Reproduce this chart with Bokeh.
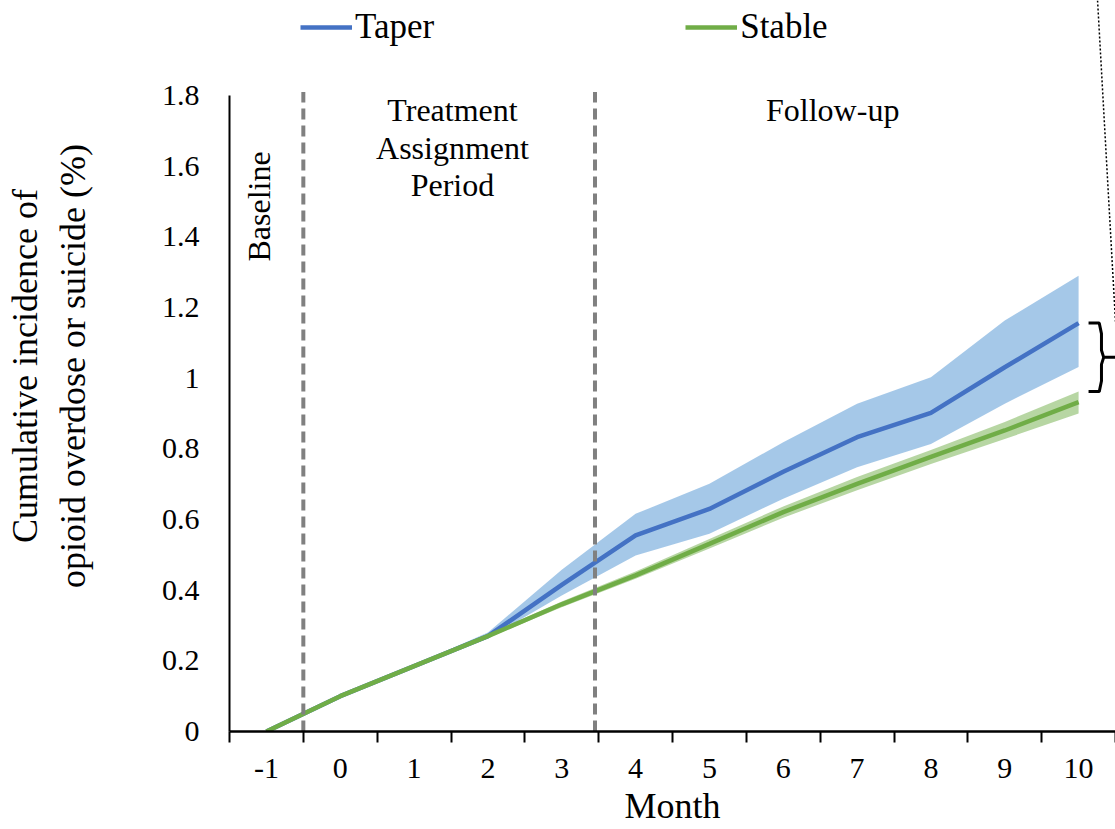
import math
from bokeh.plotting import figure
from bokeh.models import (Range1d, FixedTicker, PrintfTickFormatter, Legend, LegendItem,
                          Label, ColumnDataSource)
from bokeh.embed import file_html
from bokeh.resources import INLINE

# ---------------- data ----------------
months = [-1, 0, 1, 2, 3, 4, 5, 6, 7, 8, 9, 10]
month_labels = ["-1", "0", "1", "2", "3", "4", "5", "6", "7", "8", "9", "10"]

taper = [0.0, 0.100, 0.185, 0.270, 0.415, 0.555, 0.630, 0.735, 0.833, 0.902, 1.031, 1.156]
taper_lo = [0.0, 0.099, 0.183, 0.263, 0.385, 0.498, 0.560, 0.659, 0.748, 0.814, 0.928, 1.032]
taper_hi = [0.0, 0.101, 0.188, 0.280, 0.458, 0.616, 0.701, 0.819, 0.928, 1.003, 1.163, 1.290]

stable = [0.0, 0.100, 0.185, 0.270, 0.360, 0.442, 0.531, 0.621, 0.701, 0.777, 0.852, 0.932]
stable_lo = [0.0, 0.098, 0.182, 0.265, 0.352, 0.432, 0.518, 0.605, 0.683, 0.757, 0.828, 0.900]
stable_hi = [0.0, 0.102, 0.189, 0.276, 0.368, 0.453, 0.545, 0.637, 0.720, 0.797, 0.876, 0.962]

y_ticks = [0, 0.2, 0.4, 0.6, 0.8, 1.0, 1.2, 1.4, 1.6, 1.8]
period_bounds = [-0.5, 3.45]   # dashed separators (between categories)

FONT = "Liberation Serif"
BLUE = "#4472C4"
BLUE_BAND = "#5B9BD5"
GREEN = "#70AD47"

# ---------------- figure ----------------
p = figure(width=1115, height=829, output_backend="svg", toolbar_location=None,
           x_range=Range1d(-1.5, 10.5), y_range=Range1d(0, 2.069),
           min_border_left=229, min_border_right=0, min_border_top=0,
           min_border_bottom=98)
p.outline_line_color = None
p.grid.visible = False
p.background_fill_color = "white"
p.border_fill_color = "white"

src = ColumnDataSource(dict(x=months, taper=taper, taper_lo=taper_lo, taper_hi=taper_hi,
                            stable=stable, stable_lo=stable_lo, stable_hi=stable_hi))

p.varea(x="x", y1="taper_lo", y2="taper_hi", source=src, fill_color=BLUE_BAND, fill_alpha=0.55)
p.varea(x="x", y1="stable_lo", y2="stable_hi", source=src, fill_color=GREEN, fill_alpha=0.5)
r_taper = p.line(x="x", y="taper", source=src, line_color=BLUE, line_width=4.5)
r_stable = p.line(x="x", y="stable", source=src, line_color=GREEN, line_width=4.5)

# period separators
p.segment(x0=period_bounds, y0=[0, 0], x1=period_bounds, y1=[1.81, 1.81],
          line_color="#808080", line_width=4, line_dash="11 6")

# ---------------- axes ----------------
xa = p.xaxis[0]
xa.ticker = FixedTicker(ticks=months, minor_ticks=[m - 0.5 for m in months] + [months[-1] + 0.5])
xa.major_label_overrides = {m: l for m, l in zip(months, month_labels)}
xa.major_tick_out = 0
xa.major_tick_in = 0
xa.minor_tick_out = 11
xa.minor_tick_in = 0
xa.minor_tick_line_color = "black"
xa.minor_tick_line_width = 2
xa.axis_line_color = "black"
xa.axis_line_width = 2.5
xa.major_label_text_font = FONT
xa.major_label_text_font_size = "30px"
xa.major_label_text_color = "black"
xa.major_label_standoff = 16
xa.axis_label = "Month"
xa.axis_label_text_font = FONT
xa.axis_label_text_font_size = "36px"
xa.axis_label_text_font_style = "normal"
xa.axis_label_text_color = "black"
xa.axis_label_standoff = 5

ya = p.yaxis[0]
ya.ticker = FixedTicker(ticks=y_ticks)
ya.formatter = PrintfTickFormatter(format="%g")
ya.bounds = (0, 1.8)
ya.major_tick_out = 0
ya.major_tick_in = 0
ya.minor_tick_out = 0
ya.minor_tick_in = 0
ya.axis_line_color = "black"
ya.axis_line_width = 2
ya.major_label_text_font = FONT
ya.major_label_text_font_size = "30px"
ya.major_label_text_color = "black"
ya.major_label_standoff = 30
ya.axis_label = "Cumulative incidence of\nopioid overdose or suicide (%)"
ya.axis_label_text_font = FONT
ya.axis_label_text_font_size = "36px"
ya.axis_label_text_font_style = "normal"
ya.axis_label_text_color = "black"
ya.axis_label_standoff = 66

# ---------------- legend ----------------
legend = Legend(items=[LegendItem(label="Taper", renderers=[r_taper]),
                       LegendItem(label="Stable", renderers=[r_stable])],
                orientation="horizontal", location=(71, 684),
                label_text_font=FONT, label_text_font_size="35px", label_text_color="black",
                glyph_width=52, glyph_height=30, label_height=40, label_standoff=3,
                spacing=251, padding=0, margin=0,
                border_line_color=None, background_fill_alpha=0)
p.add_layout(legend)

# ---------------- period annotations ----------------
def lab(x, y, text, angle=0.0):
    p.add_layout(Label(x=x, y=y, text=text, angle=angle, text_align="center",
                       text_baseline="middle", text_font=FONT, text_font_size="32px",
                       text_color="black"))

lab(-1.107, 1.486, "Baseline", angle=math.pi / 2)
lab(1.52, 1.758, "Treatment")
lab(1.52, 1.652, "Assignment")
lab(1.52, 1.546, "Period")
lab(6.67, 1.758, "Follow-up")

# ---------------- bracket + pointer ----------------
top = taper[-1]
bot = stable_hi[-1]
mid = (top + bot) / 2
p.line(x=[10.135, 10.28, 10.31, 10.31, 10.34, 10.5, 10.34, 10.31, 10.31, 10.28, 10.135],
       y=[top, top, top - 0.03, mid + 0.02, mid, mid, mid, mid - 0.02, bot + 0.03, bot, bot],
       line_color="black", line_width=3)
p.line(x=[10.257, 10.5], y=[2.069, 1.16], line_color="black", line_width=1.5, line_dash="2 2")

open("out.html", "w").write(file_html(p, INLINE))
